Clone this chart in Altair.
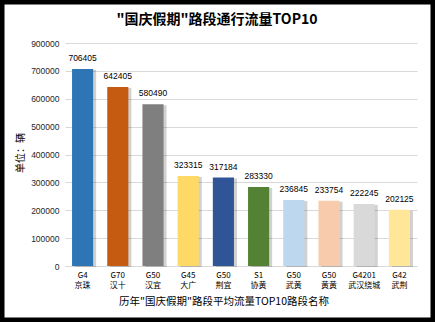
import altair as alt
import pandas as pd

roads = ["G4\n京珠", "G70\n汉十", "G50\n汉宜", "G45\n大广", "G50\n荆宜",
         "S1\n协黄", "G50\n武黄", "G50\n黄黄", "G4201\n武汉绕城", "G42\n武荆"]
flows = [706405, 642405, 580490, 323315, 317184, 283330, 236845, 233754, 222245, 202125]
colors = ["#2E75B6", "#C55A11", "#7F7F7F", "#FFD966", "#2F5597",
          "#548235", "#BDD7EE", "#F8CBAD", "#D9D9D9", "#FFE699"]
y_ticks = [0, 100000, 200000, 300000, 400000, 500000, 600000, 700000, 800000]
top_tick_label = "900000"

title_text = "\"国庆假期\"路段通行流量TOP10"
x_title_text = "历年\"国庆假期\"路段平均流量TOP10路段名称"
y_title_text = "单位：辆"

df = pd.DataFrame({"road": roads, "flow": flows, "color": colors})

W, H = 352, 223
PL, PT = 65, 43

x_enc = alt.X("road:N", sort=roads,
              scale=alt.Scale(paddingInner=0.4, paddingOuter=0.2),
              axis=alt.Axis(title=None, labelAngle=0, labelExpr="split(datum.label, '\\n')",
                            labelFont="Noto Sans CJK SC", labelFontSize=8, labelColor="#000",
                            labelLineHeight=10, labelPadding=5, ticks=False,
                            domainColor="#D9D9D9", labelBaseline="top"))
y_enc = alt.Y("flow:Q", scale=alt.Scale(domain=[0, 800000], nice=False),
              axis=alt.Axis(title=None, values=y_ticks, grid=True, gridColor="#D9D9D9",
                            domain=False, ticks=False, labelFont="Liberation Sans",
                            labelFontSize=8.5, labelColor="#262626", labelPadding=6,
                            labelOverlap=False,
                            labelExpr=f"datum.value == 800000 ? '{top_tick_label}' : datum.label",
                            format="d"))

base = alt.Chart(df)

shadow = base.mark_bar(color="#000000", opacity=0.18, xOffset=3, yOffset=1).encode(
    x=x_enc, y=y_enc)

bars = base.mark_bar().encode(
    x=x_enc, y=y_enc,
    color=alt.Color("color:N", scale=None, legend=None))

labels = base.mark_text(baseline="bottom", dy=-6, font="Liberation Sans",
                        fontSize=8.5, color="#000").encode(
    x=x_enc, y=y_enc, text=alt.Text("flow:Q", format="d"))

one = alt.Data(values=[{"a": 1}])

title = alt.Chart(one).mark_text(font="Noto Sans CJK SC", fontSize=14, fontWeight="bold",
                                 color="#000", align="center", baseline="middle").encode(
    x=alt.value(217 - PL), y=alt.value(20 - PT), text=alt.value(title_text))

x_title = alt.Chart(one).mark_text(font="Noto Sans CJK SC", fontSize=10.5,
                                   color="#000", align="center", baseline="middle").encode(
    x=alt.value(224 - PL), y=alt.value(302 - PT), text=alt.value(x_title_text))

y_title = alt.Chart(one).mark_text(font="Noto Sans CJK SC", fontSize=10, angle=270,
                                   color="#000", align="center", baseline="middle").encode(
    x=alt.value(21 - PL), y=alt.value(153 - PT), text=alt.value(y_title_text))

border = alt.Chart(one).mark_rect(fill=None, stroke="#000", strokeWidth=9).encode(
    x=alt.value(0 - PL), x2=alt.value(435 - PL), y=alt.value(0 - PT), y2=alt.value(322 - PT))

chart = alt.layer(shadow, bars, labels, title, x_title, y_title, border).properties(
    width=W, height=H,
    autosize=alt.AutoSizeParams(type="none"),
    padding={"left": PL, "top": PT, "right": 435 - PL - W, "bottom": 322 - PT - H},
    background="white",
).configure_view(stroke=None)

chart.save("out.html", embed_options={"renderer": "svg", "actions": False})
